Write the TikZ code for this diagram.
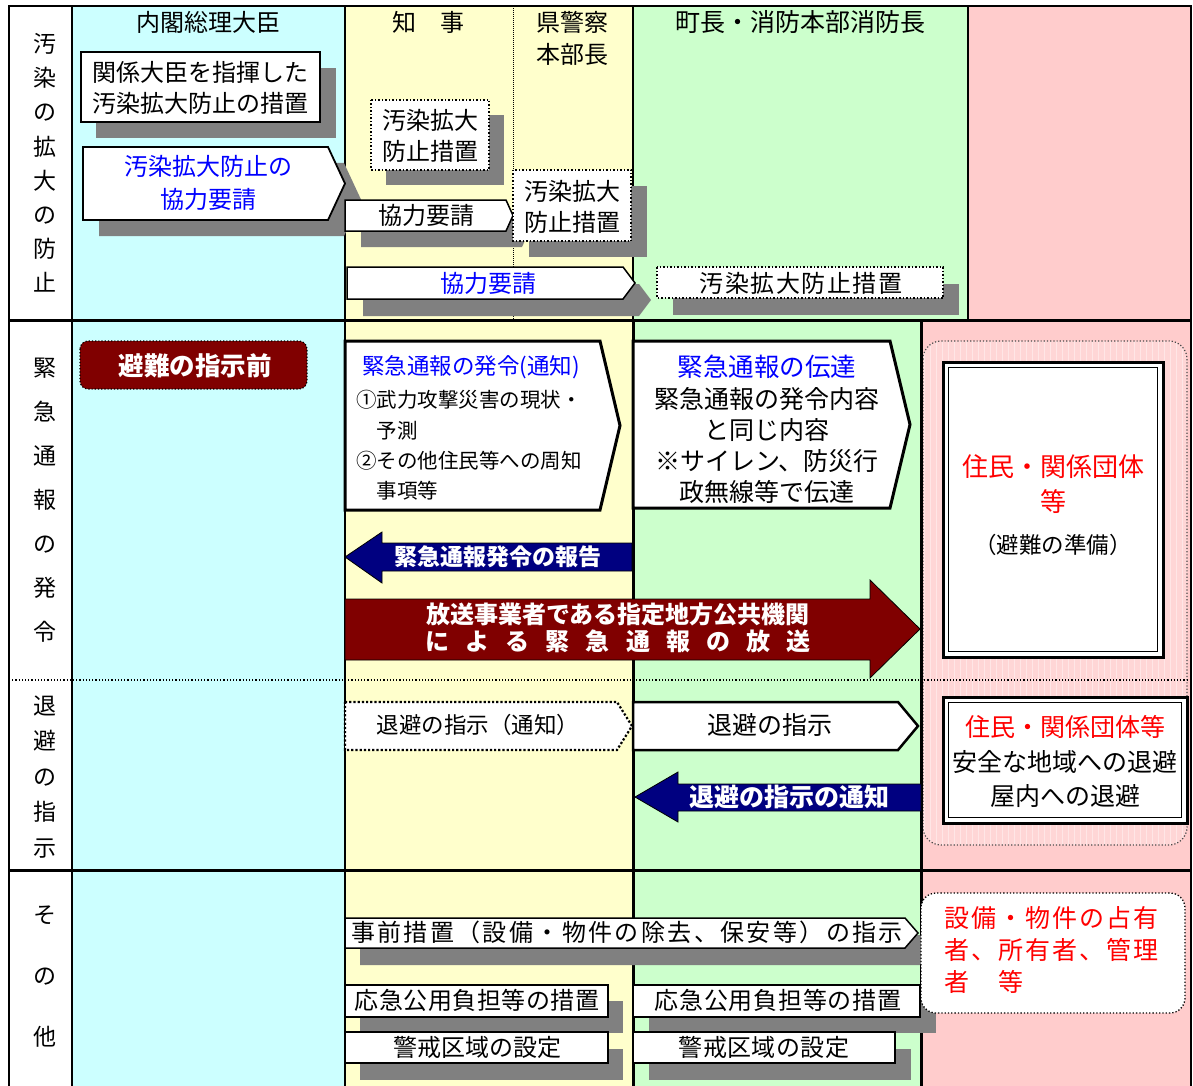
\documentclass[tikz,border=0pt]{standalone}
\usepackage{fontspec}
\setmainfont{Noto Sans CJK JP}
\definecolor{cyanbg}{HTML}{CCFFFF}
\definecolor{yelbg}{HTML}{FFFFCC}
\definecolor{grnbg}{HTML}{CCFFCC}
\definecolor{pinkbg}{HTML}{FFCCCC}
\definecolor{pinkin}{HTML}{FFD6D6}
\definecolor{pinkgrid}{HTML}{FFE6E6}
\definecolor{shgray}{HTML}{808080}
\definecolor{dred}{HTML}{800000}
\definecolor{dblue}{HTML}{000080}
\definecolor{tblue}{HTML}{0000FF}
\definecolor{tred}{HTML}{FF0000}
\newcommand\fsz[2]{\fontsize{#1}{#2}\selectfont}
\newcommand\lsz[3]{\fontsize{#1}{#2}\selectfont\addfontfeature{LetterSpace=#3}}
\newcommand\pentshape[6]{\path[#1] (#2,#3) -- ({#4-#6},#3) -- (#4,{(#3+#5)/2}) -- ({#4-#6},#5) -- (#2,#5) -- cycle;}
\tikzset{
  hdr/.style={font=\fsz{24}{32}, align=center, inner sep=0pt},
  vlbl/.style={align=center, inner sep=0pt},
  txt/.style={align=center, inner sep=0pt},
  shad/.style={fill=shgray, draw=none},
  solidbox/.style={fill=white, draw=black, line width=1.8pt},
  dotbox/.style={fill=white, draw=black, line width=1.5pt, dotted},
  thickpent/.style={fill=white, draw=black, line width=3pt, line join=miter},
  navyarrow/.style={fill=dblue, draw=black, line width=0.8pt},
  redarrow/.style={fill=dred, draw=black, line width=0.8pt},
  dblouter/.style={fill=white, draw=black, line width=3pt},
  dblinner/.style={draw=black, line width=1.3pt},
}
\begin{document}
\begin{tikzpicture}[x=1pt,y=-1pt]
\useasboundingbox (0,0) rectangle (1193,1086);
% ---------- backgrounds
\fill[white] (0,0) rectangle (1193,1086);
\fill[cyanbg] (72,6) rectangle (345,1086);
\fill[yelbg] (345,6) rectangle (633,1086);
\fill[grnbg] (633,6) rectangle (968,320);
\fill[grnbg] (633,320) rectangle (921,1086);
\fill[pinkbg] (968,6) rectangle (1191,320);
\fill[pinkbg] (921,320) rectangle (1191,1086);
% pink patterned region
\begin{scope}
  \clip[rounded corners=18] (923,341) rectangle (1187,845);
  \fill[pinkin] (923,341) rectangle (1187,845);
  \draw[pinkgrid, line width=0.4pt, step=6] (918,336) grid (1192,850);
\end{scope}
\draw[black!70, dotted, line width=1.2pt, rounded corners=18] (923,341) rectangle (1187,845);
% ---------- grid lines
\draw[line width=2.5pt] (9,1086) -- (9,6) -- (1191,6) -- (1191,1086);
\draw[line width=2pt] (72,6) -- (72,1086);
\draw[line width=1.5pt] (345,6) -- (345,1086);
\draw[densely dotted, line width=1pt] (513,6) -- (513,320);
\draw[line width=1.8pt] (633,6) -- (633,320);
\draw[line width=3pt] (633,320) -- (633,1086);
\draw[line width=2.5pt] (968,6) -- (968,320);
\draw[line width=3pt] (921,320) -- (921,1086);
\draw[line width=3pt] (9,320) -- (1191,320);
\draw[dotted, line width=1.2pt] (9,680) -- (1191,680);
\draw[line width=3pt] (9,870) -- (1191,870);
% ---------- headers
\node[hdr] (hcab) at (208,22) {内閣総理大臣};
\node[hdr] (hgov) at (428,22) {知　事};
\node[hdr] (hpol) at (572,38) {県警察\\本部長};
\node[hdr, font=\fsz{25}{32}] (hmay) at (800,22) {町長・消防本部消防長};
% ---------- row labels
\node[vlbl, font=\fsz{23}{34.2}] (l1) at (45,163) {汚\\染\\の\\拡\\大\\の\\防\\止};
\node[vlbl, font=\fsz{23}{44}] (l2) at (45,500) {緊\\急\\通\\報\\の\\発\\令};
\node[vlbl, font=\fsz{23}{35.5}] (l3) at (45,777) {退\\避\\の\\指\\示};
\node[vlbl, font=\fsz{23}{61}] (l4) at (45,977) {そ\\の\\他};
% ---------- shadows
\fill[shad] (96,68) rectangle (336,138);
\pentshape{shad, shift={(16,16)}}{83}{147}{345}{220}{17}
\fill[shad] (386,115) rectangle (504,185);
\pentshape{shad, shift={(16,16)}}{345}{200}{513}{231}{7}
\fill[shad] (529,186) rectangle (647,257);
\pentshape{shad, shift={(16,17)}}{347}{267}{635}{299}{12}
\fill[shad] (673,284) rectangle (959,315);
\pentshape{shad, shift={(15,17)}}{345}{918}{918}{948}{13}
\fill[shad] (360,1001) rectangle (623,1033);
\fill[shad] (649,1001) rectangle (936,1033);
\fill[shad] (360,1049) rectangle (623,1080);
\fill[shad] (649,1049) rectangle (911,1080);
% ---------- top section boxes
\path[solidbox] (81,52) rectangle (320,122);
\node[txt, font=\fsz{24}{31}] (b1) at (200.5,87.5) {関係大臣を指揮した\\汚染拡大防止の措置};
\pentshape{solidbox}{83}{147}{345}{220}{17}
\node[txt, font=\fsz{24}{33}, text=tblue] (p2) at (208,183) {汚染拡大防止の\\協力要請};
\path[dotbox] (371,100) rectangle (489,170);
\node[txt, font=\fsz{24}{31}] (b3) at (430,136) {汚染拡大\\防止措置};
\pentshape{solidbox, line width=1.5pt}{345}{200}{513}{231}{7}
\node[txt, font=\fsz{24}{31}] (p4) at (426,215.5) {協力要請};
\path[dotbox] (513,170) rectangle (631,241);
\node[txt, font=\fsz{24}{31}] (b5) at (572,206.5) {汚染拡大\\防止措置};
\pentshape{solidbox, line width=1.5pt}{347}{267}{635}{299}{12}
\node[txt, font=\fsz{24}{31}, text=tblue] (p6) at (488,283.5) {協力要請};
\path[dotbox] (657,267) rectangle (943,298);
\node[txt, font=\lsz{24}{31}{6}] (b7) at (801,283) {汚染拡大防止措置};
% ---------- emergency notice section
\path[fill=dred, draw=black, dotted, line width=1.2pt, rounded corners=8] (80,341) rectangle (307,389);
\node[txt, font=\bfseries\fsz{25.5}{30}, text=white] (pre) at (195,366) {避難の指示前};
\pentshape{thickpent}{345}{341}{620}{510}{20}
\node[anchor=west, inner sep=0pt, font=\fsz{22.5}{30}, text=tblue] (p8t) at (362,367) {緊急通報の発令(通知)};
\node[anchor=west, align=left, inner sep=0pt, font=\fsz{20.5}{30.3}] (p8b) at (356,445.5) {①武力攻撃災害の現状・\\　予測\\②その他住民等への周知\\　事項等};
\pentshape{thickpent}{633}{341}{910}{508}{20}
\node[txt, font=\fsz{25.5}{30}, text=tblue] (p9t) at (767,367) {緊急通報の伝達};
\node[txt, font=\fsz{25}{30.7}] (p9b) at (767,445.5) {緊急通報の発令内容\\と同じ内容\\※サイレン、防災行\\政無線等で伝達};
\path[navyarrow] (345,557) -- (382,532) -- (382,543) -- (632,543) -- (632,571) -- (382,571) -- (382,583) -- cycle;
\node[txt, font=\bfseries\fsz{23}{28}, text=white] (a1) at (498,557) {緊急通報発令の報告};
\path[redarrow] (345,599) -- (870,599) -- (870,580) -- (920,629) -- (870,678) -- (870,660) -- (345,660) -- cycle;
\node[txt, font=\bfseries\fsz{24}{27}, text=white] (a2) at (618,627.5) {放送事業者である指定地方公共機関\\\makebox[386pt]{に\hfill よ\hfill る\hfill 緊\hfill 急\hfill 通\hfill 報\hfill の\hfill 放\hfill 送}};
% residents box 1
\path[dblouter] (943,362) rectangle (1163,657);
\path[dblinner] (948.5,367.5) rectangle (1157.5,651.5);
\node[txt, font=\fsz{26}{35}] (r1) at (1053,505) {\textcolor{tred}{住民・関係団体}\\\textcolor{tred}{等}\\[7pt]{\fsz{22.5}{30}（避難の準備）}};
% ---------- evacuation section
\pentshape{fill=white, draw=black, line width=2.2pt, dotted}{345}{702}{632}{750}{15}
\node[txt, font=\fsz{22.5}{30}] (e1) at (478,725) {退避の指示（通知）};
\pentshape{fill=white, draw=black, line width=2.5pt}{633}{702}{918}{750}{20}
\node[txt, font=\fsz{25}{30}] (e2) at (770,725) {退避の指示};
\path[navyarrow] (635,797) -- (678,772) -- (678,784) -- (921,784) -- (921,811) -- (678,811) -- (678,822) -- cycle;
\node[txt, font=\bfseries\fsz{25}{28}, text=white] (a3) at (789,797) {退避の指示の通知};
\path[dblouter] (943,697) rectangle (1187,823);
\path[dblinner] (948.5,702.5) rectangle (1181.5,817.5);
\node[txt, font=\fsz{25}{34.5}] (r2) at (1065,761.5) {\textcolor{tred}{住民・関係団体等}\\安全な地域への退避\\屋内への退避};
% ---------- other section
\pentshape{solidbox, line width=1.5pt}{345}{918}{918}{948}{13}
\node[txt, font=\lsz{24}{28}{10}] (o1) at (627,932) {事前措置（設備・物件の除去、保安等）の指示};
\path[solidbox, line width=1.5pt] (345,985) rectangle (608,1017);
\node[txt, font=\lsz{24}{28}{2}] (o2) at (477,1000) {応急公用負担等の措置};
\path[solidbox, line width=1.5pt] (633,985) rectangle (920,1017);
\node[txt, font=\lsz{24}{28}{3}] (o3) at (778,1000) {応急公用負担等の措置};
\path[solidbox, line width=1.5pt] (345,1032) rectangle (608,1063);
\node[txt, font=\fsz{24}{28}] (o4) at (477,1047) {警戒区域の設定};
\path[solidbox, line width=1.5pt] (633,1032) rectangle (895,1063);
\node[txt, font=\lsz{24}{28}{2}] (o5) at (764,1047) {警戒区域の設定};
\path[fill=white, draw=black, dotted, line width=1.3pt, rounded corners=15] (921,893) rectangle (1185,1013);
\node[anchor=west, align=left, inner sep=0pt, font=\lsz{25}{32}{8}, text=tred] (r3) at (944,950) {設備・物件の占有\\者、所有者、管理\\者　等};
\end{tikzpicture}
\end{document}
